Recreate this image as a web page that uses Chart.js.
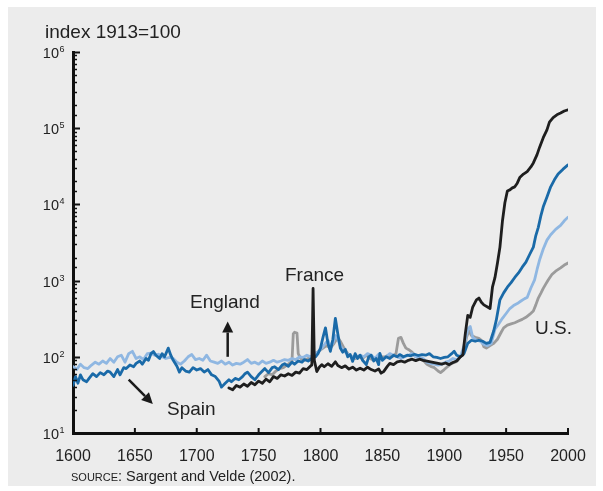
<!DOCTYPE html>
<html><head><meta charset="utf-8">
<script src="https://cdn.jsdelivr.net/npm/chart.js@4/dist/chart.umd.min.js"></script>
<style>
html,body{margin:0;padding:0;background:#fff;}
#panel{position:absolute;left:8px;top:7px;width:588px;height:479px;background:#ececec;}
#c{position:absolute;left:0;top:0;}
</style></head><body>
<div id="panel"></div>
<canvas id="c" width="603" height="491"></canvas>
<script>
// ---- data (index 1913 = 100) ----
const franceYears = [1726,1729,1732,1735,1738,1741,1744,1747,1750,1753,1756,1759,1762,1765,1768,1771,1774,1777,1780,1783,1786,1789,1792,1793,1794,1795,1797,1799,1801,1803,1806,1809,1812,1814,1817,1820,1823,1826,1829,1832,1835,1838,1841,1844,1847,1849,1851,1854,1856,1859,1862,1865,1868,1871,1874,1877,1880,1883,1886,1889,1892,1895,1898,1901,1904,1907,1910,1913,1915,1917,1919,1921,1923,1926,1928,1930,1932,1935,1937,1939,1941,1943,1945,1947,1949,1951,1953,1955,1957,1959,1961,1964,1967,1970,1972,1975,1977,1980,1983,1985,1988,1991,1994,1997,2000];
const franceValues = [39,37,42,40,44,41,46,43,48,45,51,47,55,52,58,56,60,57,63,61,70,68,76,78,790,90,64,73,79,74,81,75,86,77,72,76,69,73,67,71,67,73,68,65,69,61,64,75,82,79,86,88,85,90,93,89,93,90,88,86,84,82,80,83,79,84,88,100,105,200,350,330,450,560,590,520,480,450,430,830,1100,1700,2750,6000,10500,15000,15500,16500,17000,19000,22500,25000,27000,31000,35000,45000,56000,75000,95000,120000,138000,150000,158000,168000,174000];

const spainYears = [1600,1602,1604,1606,1608,1611,1613,1616,1619,1622,1625,1628,1630,1633,1636,1638,1641,1643,1646,1649,1651,1654,1656,1659,1661,1663,1665,1667,1670,1672,1674,1677,1679,1681,1684,1686,1688,1691,1694,1697,1700,1703,1706,1709,1712,1715,1718,1720,1723,1726,1728,1731,1734,1737,1739,1741,1744,1747,1750,1753,1755,1758,1761,1763,1766,1769,1771,1774,1777,1779,1782,1785,1787,1790,1793,1796,1798,1800,1802,1804,1806,1808,1810,1812,1814,1816,1818,1820,1822,1824,1826,1828,1830,1832,1834,1837,1839,1841,1843,1845,1847,1848,1850,1853,1856,1859,1862,1864,1867,1870,1873,1876,1879,1882,1885,1888,1891,1894,1897,1900,1903,1906,1908,1910,1913,1916,1919,1922,1925,1928,1931,1934,1937,1940,1942,1945,1948,1951,1954,1957,1960,1963,1966,1969,1972,1974,1976,1978,1980,1983,1986,1989,1992,1996,2000];
const spainValues = [42,55,45,58,50,47,52,60,55,62,58,65,63,55,68,58,72,70,78,74,82,88,80,95,90,110,117,105,95,110,100,130,105,90,75,63,72,65,63,72,67,70,63,68,58,55,48,40,45,50,47,52,50,55,60,63,55,50,58,65,70,62,72,74,68,78,81,75,85,80,88,85,92,88,95,100,110,130,180,240,150,118,170,320,200,130,115,125,100,107,87,110,95,105,90,79,100,105,88,95,79,111,90,100,95,105,100,107,100,105,103,108,104,107,105,110,100,98,95,98,100,110,118,105,100,110,150,165,160,165,160,150,155,220,300,560,690,820,940,1100,1260,1500,1750,2200,2750,3900,5000,7000,9300,12500,17000,21000,25000,29000,33000];

const englandYears = [1600,1603,1606,1609,1612,1615,1618,1621,1624,1627,1630,1633,1636,1639,1642,1645,1648,1651,1654,1657,1660,1663,1666,1669,1672,1675,1678,1681,1684,1687,1690,1693,1696,1699,1702,1705,1708,1711,1714,1717,1720,1723,1726,1729,1732,1735,1738,1741,1744,1747,1750,1753,1756,1759,1762,1765,1768,1771,1774,1777,1780,1783,1786,1789,1792,1795,1798,1801,1804,1806,1808,1810,1812,1814,1816,1818,1820,1823,1826,1829,1832,1835,1838,1841,1844,1847,1850,1853,1856,1859,1862,1865,1868,1871,1874,1877,1880,1883,1886,1889,1892,1895,1898,1901,1904,1907,1910,1913,1916,1919,1921,1923,1926,1929,1932,1935,1938,1941,1944,1947,1950,1953,1956,1959,1962,1965,1967,1970,1973,1975,1977,1980,1983,1986,1990,1994,1997,2000];
const englandValues = [75,68,80,72,70,78,85,80,88,82,95,85,100,105,85,110,118,95,100,92,110,112,105,108,100,95,98,95,85,80,88,100,107,92,95,90,105,88,85,82,88,80,85,78,82,80,85,92,82,85,80,88,82,85,90,85,88,92,90,95,92,100,98,105,100,110,115,130,150,165,140,150,190,170,140,125,115,105,100,98,105,100,110,105,95,108,90,100,110,105,100,95,100,105,110,100,98,95,85,82,80,78,80,85,88,95,92,100,140,230,250,180,165,160,145,140,150,230,270,320,370,430,470,500,540,580,600,800,1020,1400,1860,2600,3400,4000,4700,5300,6100,6800];

const usYears = [1755,1758,1761,1764,1767,1770,1773,1776,1777,1778,1779,1781,1782,1784,1787,1790,1793,1796,1799,1802,1805,1808,1811,1814,1816,1819,1822,1825,1828,1831,1834,1837,1840,1843,1846,1849,1852,1855,1858,1861,1863,1865,1867,1869,1871,1874,1877,1880,1883,1886,1889,1892,1895,1897,1900,1903,1906,1909,1911,1913,1916,1918,1920,1922,1925,1928,1930,1932,1934,1937,1940,1943,1946,1948,1951,1954,1957,1960,1963,1966,1969,1972,1974,1976,1978,1980,1982,1984,1987,1990,1994,1997,2000];
const usValues = [55,60,58,65,70,72,78,85,90,200,210,205,110,95,90,95,100,110,120,130,140,130,150,180,160,130,110,100,95,100,95,105,95,90,95,100,100,105,100,110,175,180,150,130,125,115,100,95,90,80,75,72,65,62,68,75,82,85,90,100,120,180,220,190,180,175,165,135,130,140,150,170,210,240,260,270,280,295,310,330,360,400,480,590,680,790,900,1020,1200,1330,1470,1600,1700];

const xTickYears = [1600,1650,1700,1750,1800,1850,1900,1950,2000];
const yTickExponents = [1,2,3,4,5,6];

const titleText = 'index 1913=100';
const sourceLabel = 'SOURCE';
const sourceText = ': Sargent and Velde (2002).';
const seriesLabels = {england:'England', france:'France', spain:'Spain', us:'U.S.'};

// ---- build ----
const pts = (xs, ys) => xs.map((x, i) => ({x, y: ys[i]}));
const FONT = '"Liberation Sans", Arial, Helvetica, sans-serif';
const TXT = '#222222';

const decor = {
  id: 'decor',
  afterDraw(chart) {
    const ctx = chart.ctx, xs = chart.scales.x, ys = chart.scales.y;
    const left = chart.chartArea.left, bottom = chart.chartArea.bottom;
    ctx.save();
    ctx.strokeStyle = '#111';
    ys.ticks.forEach(t => {
      const y = Math.round(ys.getPixelForValue(t.value)) + 0.5;
      const lg = Math.log10(t.value);
      const major = Math.abs(lg - Math.round(lg)) < 1e-9;
      ctx.lineWidth = major ? 2 : 1.5;
      ctx.beginPath(); ctx.moveTo(left, y); ctx.lineTo(left + (major ? 7 : 4), y); ctx.stroke();
    });
    ctx.lineWidth = 2;
    xTickYears.forEach(v => {
      const x = xs.getPixelForValue(v);
      ctx.beginPath(); ctx.moveTo(x, bottom); ctx.lineTo(x, bottom - 5); ctx.stroke();
    });
    ctx.fillStyle = TXT;
    yTickExponents.forEach(e => {
      const y = ys.getPixelForValue(Math.pow(10, e));
      ctx.font = '14.5px ' + FONT;
      ctx.textAlign = 'right'; ctx.textBaseline = 'alphabetic';
      ctx.fillText('10', 59, y + 6);
      ctx.font = '9px ' + FONT;
      ctx.textAlign = 'left';
      ctx.fillText(String(e), 59.5, y);
    });
    ctx.textAlign = 'left'; ctx.textBaseline = 'alphabetic';
    ctx.font = '19px ' + FONT;
    ctx.fillText(titleText, 45, 38);
    ctx.fillText(seriesLabels.england, 190, 308);
    ctx.fillText(seriesLabels.france, 285, 281);
    ctx.fillText(seriesLabels.spain, 167, 415);
    ctx.fillText(seriesLabels.us, 535, 334);
    ctx.font = '11px ' + FONT;
    ctx.fillText(sourceLabel, 71, 481);
    const w = ctx.measureText(sourceLabel).width;
    ctx.font = '14.5px ' + FONT;
    ctx.fillText(sourceText, 71 + w, 481);
    const arrow = (x1, y1, x2, y2) => {
      const ang = Math.atan2(y2 - y1, x2 - x1), hl = 11, hw = 5.5;
      const bx = x2 - hl * Math.cos(ang), by = y2 - hl * Math.sin(ang);
      ctx.strokeStyle = '#1a1a1a'; ctx.fillStyle = '#1a1a1a'; ctx.lineWidth = 2.5;
      ctx.beginPath(); ctx.moveTo(x1, y1); ctx.lineTo(bx, by); ctx.stroke();
      ctx.beginPath(); ctx.moveTo(x2, y2);
      ctx.lineTo(bx + hw * Math.sin(ang), by - hw * Math.cos(ang));
      ctx.lineTo(bx - hw * Math.sin(ang), by + hw * Math.cos(ang));
      ctx.closePath(); ctx.fill();
    };
    arrow(xs.getPixelForValue(1725), ys.getPixelForValue(100), xs.getPixelForValue(1725), ys.getPixelForValue(290));
    arrow(xs.getPixelForValue(1645), ys.getPixelForValue(50), xs.getPixelForValue(1664.5), ys.getPixelForValue(24));
    ctx.restore();
  }
};

const ds = (label, xsArr, ysArr, color) => ({
  label, data: pts(xsArr, ysArr), borderColor: color, borderWidth: 2.8,
  pointRadius: 0, tension: 0, fill: false, borderJoinStyle: 'round', borderCapStyle: 'round'
});

new Chart(document.getElementById('c'), {
  type: 'line',
  data: {
    datasets: [
      ds('France', franceYears, franceValues, '#1e1e1e'),
      ds('Spain', spainYears, spainValues, '#1a6aa8'),
      ds('England', englandYears, englandValues, '#8fb7e2'),
      ds('U.S.', usYears, usValues, '#9b9b9b')
    ]
  },
  options: {
    responsive: false, animation: false, devicePixelRatio: 1,
    layout: { padding: { left: 0, right: 35, top: 52, bottom: 19 } },
    plugins: { legend: { display: false }, tooltip: { enabled: false } },
    scales: {
      x: {
        type: 'linear', min: 1600, max: 2000,
        grid: { display: false },
        border: { display: true, color: '#111', width: 3 },
        ticks: { stepSize: 50, autoSkip: false, maxRotation: 0, padding: 6, color: TXT,
                 font: { size: 16, family: FONT }, callback: v => String(v) },
        afterFit: s => { s.height = 39; }
      },
      y: {
        type: 'logarithmic', min: 10, max: 1000000,
        grid: { display: false },
        border: { display: true, color: '#111', width: 3 },
        ticks: { display: false, autoSkip: false },
        afterFit: s => { s.width = 73; }
      }
    }
  },
  plugins: [decor]
});
</script>
</body></html>
